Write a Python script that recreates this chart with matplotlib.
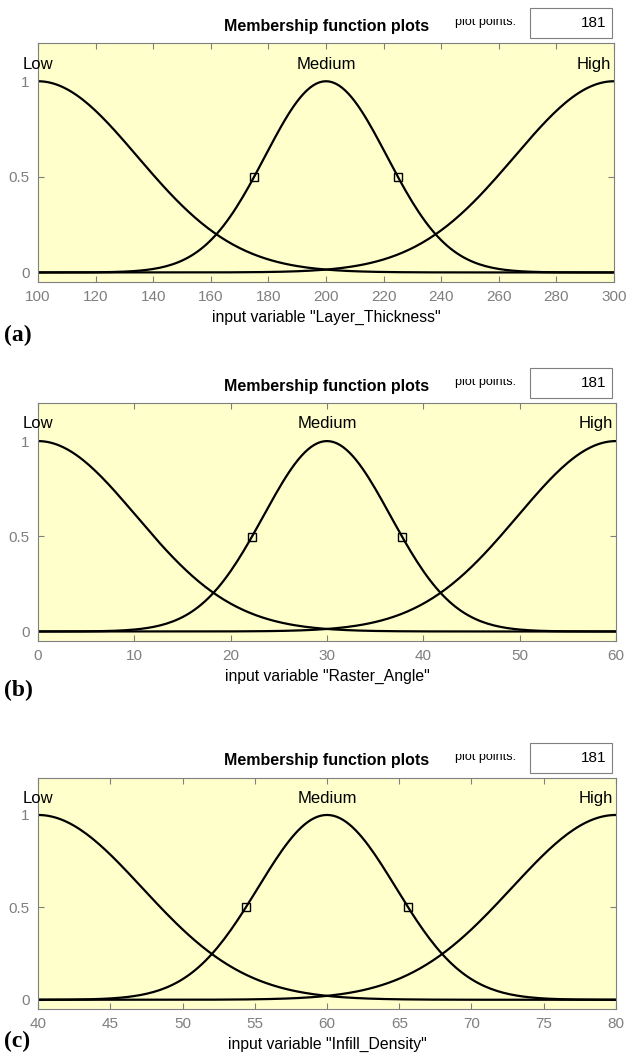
import numpy as np
import matplotlib
matplotlib.use("Agg")
import matplotlib.pyplot as plt
from matplotlib.patches import Rectangle
from matplotlib.transforms import Bbox, TransformedBbox

plt.rcParams['font.family'] = ['Liberation Sans', 'DejaVu Sans']

# ------------------------------------------------------------------
# data (gaussmf parameters per input variable)
# ------------------------------------------------------------------
mf_names = ["Low", "Medium", "High"]
var_names = ["Layer_Thickness", "Raster_Angle", "Infill_Density"]
panel_tags = ["(a)", "(b)", "(c)"]
x_ranges = [(100, 300), (0, 60), (40, 80)]
x_steps = [20, 10, 5]
centers_a = [100, 200, 300]
centers_b = [0, 30, 60]
centers_c = [40, 60, 80]
sigmas_a = [34.5, 21.2, 34.5]
sigmas_b = [10.2, 6.6, 10.2]
sigmas_c = [7.2, 4.77, 7.2]
marker_x_a = [175, 225]
marker_x_b = [22.2, 37.8]
marker_x_c = [54.4, 65.6]
plot_points = 181

centers = [centers_a, centers_b, centers_c]
sigmas = [sigmas_a, sigmas_b, sigmas_c]
marker_x = [marker_x_a, marker_x_b, marker_x_c]

W, H = 631, 1053
# axes boxes in pixels: left, top, right, bottom
boxes = [(38, 43, 614, 282), (38, 403, 616, 641), (38, 778, 616, 1009)]
tag_dy = [53, 49, 32]

BG = "#ffffcc"
GRAY = "#7f7f7f"


def gaussmf(x, sig, c):
    return np.exp(-(x - c) ** 2 / (2.0 * sig ** 2))


fig = plt.figure(figsize=(W / 100, H / 100), dpi=100)

for i in range(3):
    l, t, r, b = boxes[i]
    ax = fig.add_axes([l / W, 1 - b / H, (r - l) / W, (b - t) / H])
    ax.set_facecolor(BG)
    lo, hi = x_ranges[i]
    x = np.linspace(lo, hi, plot_points)
    for c, s in zip(centers[i], sigmas[i]):
        ax.plot(x, gaussmf(x, s, c), color="black", lw=1.6, solid_capstyle="butt")
    mx = np.array(marker_x[i])
    ax.plot(mx, gaussmf(mx, sigmas[i][1], centers[i][1]), ls="none", marker="s",
            ms=5.5, mfc="none", mec="black", mew=1.0)

    ax.set_xlim(lo, hi)
    ax.set_ylim(-0.05, 1.2)
    ax.set_xticks(np.arange(lo, hi + 0.1, x_steps[i]))
    ax.set_yticks([0, 0.5, 1])
    ax.set_yticklabels(["0", "0.5", "1"])
    ax.tick_params(direction="in", top=True, right=True, length=4, width=0.8,
                   colors=GRAY, labelsize=11, labelcolor=GRAY, pad=6)
    for sp in ax.spines.values():
        sp.set_color(GRAY)
        sp.set_linewidth(0.8)

    ax.text(lo, 1.09, mf_names[0], ha="center", va="center", fontsize=12)
    ax.text(centers[i][1], 1.09, mf_names[1], ha="center", va="center", fontsize=12)
    ax.text(hi - (hi - lo) * 0.005, 1.09, mf_names[2], ha="right", va="center", fontsize=12)

    ax.set_xlabel('input variable "%s"' % var_names[i], fontsize=11.3, labelpad=4)

    # header: title, "plot points:" and the edit box
    fig.text(327 / W, 1 - (t - 17) / H, "Membership function plots", ha="center",
             va="center", fontsize=11.5, fontweight="bold")
    pp = fig.text(455 / W, 1 - (t - 21) / H, "plot points:", ha="left", va="center",
                  fontsize=9)
    clip = TransformedBbox(Bbox([[440 / W, 0], [520 / W, 1 - (t - 24.5) / H]]), fig.transFigure)
    pp.set_clip_box(clip)
    pp.set_clip_on(True)
    fig.patches.append(Rectangle((530 / W, 1 - (t - 5) / H), 82 / W, 30 / H,
                                 transform=fig.transFigure, facecolor="white",
                                 edgecolor=GRAY, lw=0.8))
    fig.text(606 / W, 1 - (t - 20) / H, str(plot_points), ha="right", va="center",
             fontsize=11)

    fig.text(4 / W, 1 - (b + tag_dy[i]) / H, panel_tags[i], ha="left", va="center",
             fontsize=17, fontweight="bold", family="Liberation Serif")

fig.savefig("out.png", dpi=100)
